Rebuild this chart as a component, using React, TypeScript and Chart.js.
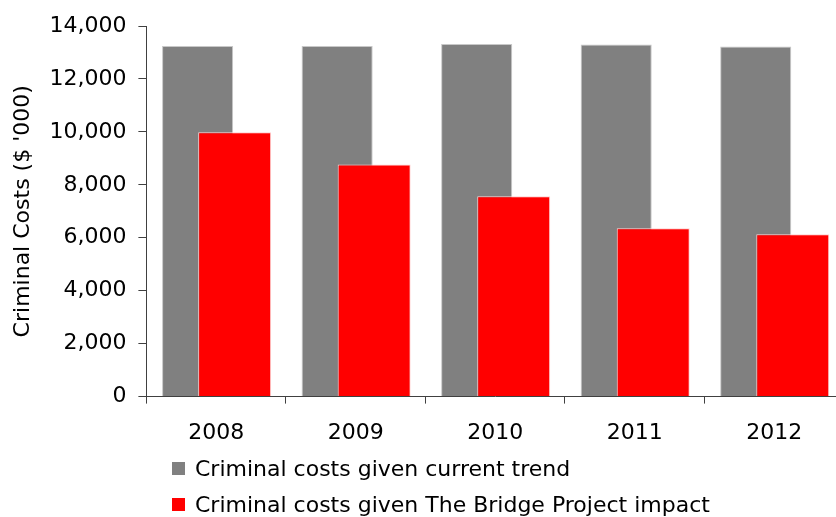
import React, { useEffect, useRef } from "react";
import { Chart, registerables } from "chart.js";

Chart.register(...registerables);

const categories = ["2008", "2009", "2010", "2011", "2012"];
const currentTrend = [13240, 13240, 13320, 13300, 13230];
const bridgeImpact = [9990, 8770, 7570, 6360, 6130];
const seriesLabels = [
  "Criminal costs given current trend",
  "Criminal costs given The Bridge Project impact",
];
const yAxisTitle = "Criminal Costs ($ '000)";

const FONT = "'DejaVu Sans', Verdana, sans-serif";
const GRAY = "#808080";
const RED = "#ff0000";
const AXIS = "#404040";

const redOnTop = {
  id: "redOnTop",
  beforeDatasetDraw(chart: any, args: any) {
    if (args.index === 1) return false;
    return true;
  },
  afterDatasetsDraw(chart: any) {
    const meta = chart.getDatasetMeta(1);
    if (meta && !meta.hidden) meta.controller.draw();
  },
};

export default function App() {
  const ref = useRef<HTMLCanvasElement | null>(null);

  useEffect(() => {
    document.body.style.margin = "0";
    const canvas = ref.current!;
    const chart = new Chart(canvas, {
      type: "bar",
      data: {
        labels: categories,
        datasets: [
          {
            label: seriesLabels[0],
            data: currentTrend,
            backgroundColor: GRAY,
            borderColor: "#c8c8c8",
            borderWidth: 1,
            categoryPercentage: 0.531,
            barPercentage: 1.92,
          },
          {
            label: seriesLabels[1],
            data: bridgeImpact,
            backgroundColor: RED,
            borderColor: "#ffd0d0",
            borderWidth: 1,
            categoryPercentage: 0.531,
            barPercentage: 1.97,
          },
        ],
      },
      options: {
        responsive: false,
        animation: false,
        layout: { padding: { top: 26, left: 10, right: 0, bottom: 55 } },
        plugins: {
          legend: { display: false },
          tooltip: { enabled: false },
        },
        scales: {
          x: {
            grid: {
              offset: true,
              drawOnChartArea: false,
              drawTicks: true,
              tickLength: 7,
              color: AXIS,
            },
            border: { display: true, color: AXIS, width: 1 },
            ticks: {
              color: "#000",
              font: { family: FONT, size: 22 },
              padding: 16,
              maxRotation: 0,
            },
          },
          y: {
            min: 0,
            max: 14000,
            grid: {
              drawOnChartArea: false,
              drawTicks: true,
              tickLength: 8,
              color: AXIS,
            },
            border: { display: true, color: AXIS, width: 1 },
            ticks: {
              stepSize: 2000,
              color: "#000",
              font: { family: FONT, size: 22 },
              padding: 12,
            },
            title: {
              display: true,
              text: yAxisTitle,
              color: "#000",
              font: { family: FONT, size: 22 },
              padding: { top: 0, bottom: 1 },
            },
          },
        },
      },
      plugins: [redOnTop],
    });
    return () => chart.destroy();
  }, []);

  const legendColors = [GRAY, RED];
  const legendTops = [455, 491];

  return (
    <div
      style={{
        position: "relative",
        width: 836,
        height: 517,
        overflow: "hidden",
        background: "#fff",
      }}
    >
      <canvas
        ref={ref}
        width={844}
        height={517}
        style={{ position: "absolute", left: 0, top: 0, width: 844, height: 517 }}
      />
      {seriesLabels.map((label, i) => (
        <div
          key={label}
          style={{
            position: "absolute",
            left: 172,
            top: legendTops[i],
            height: 26,
            display: "flex",
            alignItems: "center",
            fontFamily: FONT,
            fontSize: 22,
            color: "#000",
            whiteSpace: "nowrap",
          }}
        >
          <span
            style={{
              display: "inline-block",
              width: 13,
              height: 13,
              background: legendColors[i],
              marginRight: 10,
            }}
          />
          <span>{label}</span>
        </div>
      ))}
    </div>
  );
}
